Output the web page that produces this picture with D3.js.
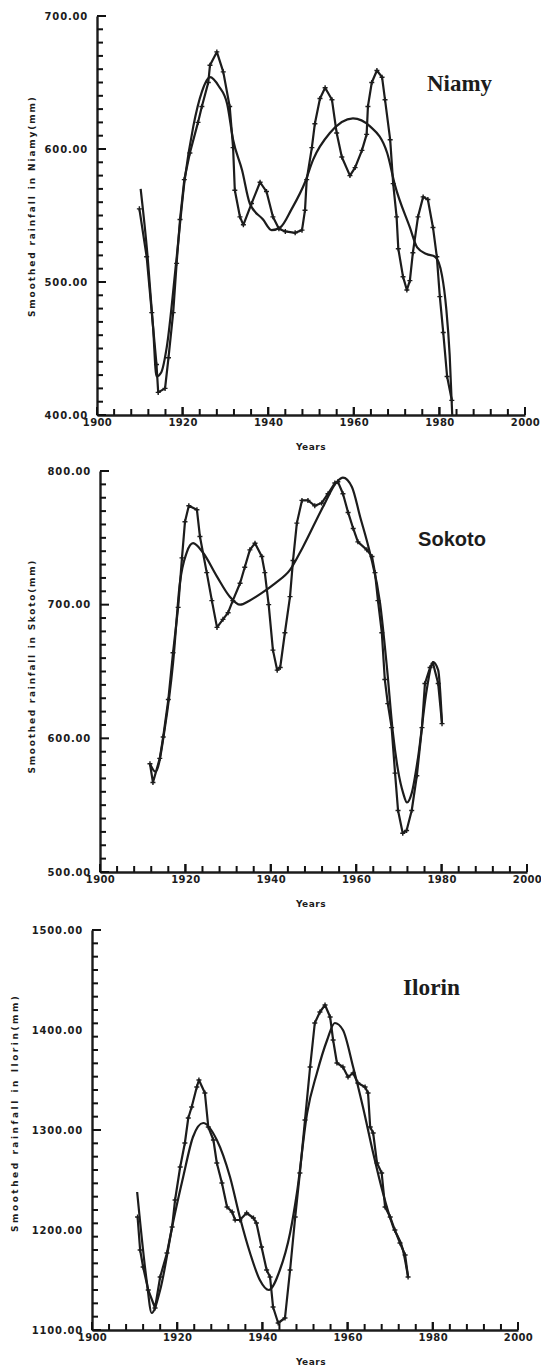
<!DOCTYPE html>
<html>
<head>
<meta charset="utf-8">
<script src="https://cdn.jsdelivr.net/npm/d3@7"></script>
<style>
  body { margin: 0; background: #fff; }
  svg { display: block; }
  .tick text { font-family: "DejaVu Sans", sans-serif; font-weight: bold; fill: #1c1c1c; }
</style>
</head>
<body>
<svg id="chart" width="541" height="1367"></svg>
<script>
// [year, smoothed rainfall mm]
const niameyRaw = [
  [1909.9, 555], [1911.6, 519], [1912.8, 477], [1913.9, 438], [1914.3, 417], [1915.9, 420],
  [1916.7, 443], [1917.8, 477], [1918.6, 514], [1919.4, 547], [1920.4, 577], [1921.7, 597],
  [1923.6, 620], [1924.5, 632], [1926, 650], [1926.4, 663], [1928, 673], [1929.5, 658],
  [1931, 632], [1931.8, 601], [1932.2, 569], [1933.4, 549], [1934.2, 543], [1936.1, 559],
  [1938.1, 575], [1939.6, 568], [1941.1, 549], [1942.5, 540], [1944, 538], [1946.3, 537],
  [1947.9, 539], [1948.6, 554], [1949, 577], [1950.2, 601], [1950.9, 619], [1952.1, 638],
  [1953.3, 646], [1954.9, 637], [1956, 612], [1957.2, 594], [1959.1, 580], [1960.3, 586],
  [1961.9, 599], [1963, 611], [1963.3, 632], [1964.2, 650], [1965.4, 659], [1966.6, 654],
  [1967.3, 637], [1968.5, 607], [1969.2, 574], [1970, 549], [1970.4, 525], [1971.5, 504],
  [1972.4, 494], [1973.1, 501], [1973.8, 522], [1975, 549], [1976.2, 564], [1977.3, 562],
  [1978.5, 541], [1979.4, 519], [1980.1, 489], [1980.9, 462], [1981.8, 429], [1982.9, 411]
];
const niameySmooth = [
  [1910.2, 570], [1911.8, 520], [1913.1, 466], [1913.9, 429], [1915, 432], [1916.3, 451],
  [1918.5, 515], [1920.5, 577], [1922.5, 617], [1924.5, 643], [1926.4, 654], [1928.5, 647],
  [1930.4, 634], [1931.8, 607], [1933.9, 584], [1935.7, 559], [1938.8, 547], [1940.8, 539],
  [1942.8, 541], [1945.5, 555], [1948.6, 575], [1950.5, 592], [1954.4, 612], [1959.8, 623],
  [1963.8, 617], [1967.8, 597], [1969.6, 573], [1973.1, 541], [1974.8, 526], [1977, 521],
  [1979, 519], [1980.6, 505], [1981.6, 480], [1982.4, 445], [1983, 400]
];

const sokotoRaw = [
  [1911.7, 581], [1912.4, 567], [1914, 585], [1914.8, 601], [1916, 629], [1917.1, 664],
  [1918.3, 698], [1919.2, 735], [1919.9, 762], [1920.8, 774], [1922.7, 771], [1923.4, 751],
  [1925, 724], [1926.2, 703], [1927.4, 683], [1928.8, 689], [1930, 694], [1931.1, 703],
  [1932.8, 716], [1933.9, 728], [1935.1, 741], [1936.3, 746], [1937.9, 736], [1938.6, 724],
  [1939.5, 700], [1940.5, 666], [1941.5, 651], [1942.2, 653], [1943.3, 679], [1944.5, 706],
  [1945.2, 733], [1946.1, 761], [1947.3, 778], [1948.7, 778], [1950.3, 774], [1951.9, 776],
  [1953.4, 783], [1955, 791], [1955.7, 792], [1956.9, 783], [1958.1, 769], [1959.3, 757],
  [1960.4, 747], [1962.5, 741], [1963.7, 736], [1964.4, 724], [1965.1, 703], [1966, 679],
  [1966.7, 644], [1967.4, 626], [1968.3, 608], [1969.1, 574], [1969.8, 546], [1970.9, 529],
  [1971.8, 531], [1973, 546], [1974.2, 572], [1975.4, 608], [1976.1, 641], [1977.3, 653],
  [1978, 656], [1979.2, 641], [1980.1, 611]
];
const sokotoSmooth = [
  [1911.7, 581], [1913, 575], [1915.2, 608], [1917.1, 656], [1918.7, 716], [1920.3, 739],
  [1921.8, 746], [1924.1, 739], [1927.4, 721], [1930.4, 706], [1932.8, 700], [1935, 703],
  [1938, 709], [1941, 716], [1944.5, 726], [1947.5, 743], [1952.2, 773], [1955.5, 792],
  [1956.9, 795], [1959, 788], [1960.9, 766], [1963.2, 739], [1965.6, 701], [1967.2, 653],
  [1968.6, 604], [1969.8, 576], [1971, 559], [1971.9, 552], [1973, 559], [1974.5, 586],
  [1976.5, 636], [1978, 657], [1979.2, 651], [1980.1, 611]
];

const ilorinRaw = [
  [1910.7, 1213], [1911.3, 1180], [1912, 1163], [1913.2, 1140], [1914.8, 1122], [1916, 1153],
  [1917.6, 1177], [1918.8, 1203], [1919.5, 1230], [1920.7, 1263], [1921.8, 1287], [1922.6, 1312],
  [1923.4, 1323], [1924.6, 1343], [1925.1, 1350], [1926.5, 1337], [1927.3, 1303], [1928.5, 1290],
  [1929.3, 1267], [1930.5, 1247], [1931.7, 1223], [1932.9, 1218], [1933.6, 1210], [1934.7, 1210],
  [1936.3, 1217], [1937.9, 1212], [1938.6, 1207], [1939.8, 1183], [1941, 1160], [1941.8, 1153],
  [1942.5, 1123], [1943.7, 1107], [1945.3, 1112], [1946.5, 1160], [1947.7, 1213], [1948.8, 1257],
  [1950, 1310], [1951.2, 1363], [1952.3, 1407], [1953.5, 1418], [1954.7, 1425], [1955.9, 1413],
  [1956.6, 1390], [1957.5, 1367], [1958.9, 1363], [1960.1, 1353], [1961.3, 1357], [1962.4, 1347],
  [1964.1, 1343], [1964.8, 1337], [1965.3, 1303], [1966, 1297], [1966.9, 1267], [1968, 1257],
  [1968.8, 1223], [1970, 1213], [1971.1, 1200], [1972.3, 1187], [1973.5, 1175], [1974.2, 1153]
];
const ilorinSmooth = [
  [1910.6, 1238], [1912.9, 1147], [1914, 1117], [1916, 1140], [1919, 1207], [1921.4, 1253],
  [1923.7, 1293], [1926.1, 1307], [1929.3, 1290], [1932.4, 1253], [1934.7, 1213], [1937.1, 1177],
  [1939.4, 1150], [1941.5, 1140], [1944.1, 1160], [1946.5, 1197], [1948.1, 1237], [1950.5, 1317],
  [1952.8, 1357], [1955.2, 1390], [1957, 1407], [1958.9, 1400], [1961.3, 1363], [1963.6, 1323],
  [1966, 1277], [1968.3, 1237], [1970.7, 1203], [1973, 1180], [1974.2, 1153]
];

const yearDomain = [1900, 2000];
const yearLabels = [1900, 1920, 1940, 1960, 1980, 2000];

const panels = [
  { raw: niameyRaw, smooth: niameySmooth, yDomain: [400, 700],
    left: 97, right: 525, top: 16, bottom: 415,
    title: 'Niamy', titleX: 427, titleY: 91, titleFont: '"Liberation Serif", serif', titleSize: 23, titleLen: 65,
    ylabel: 'Smoothed rainfall in Niamy(mm)', labelX: 32, labelY: 207, labelLen: 220 },
  { raw: sokotoRaw, smooth: sokotoSmooth, yDomain: [500, 800],
    left: 100, right: 527, top: 471, bottom: 872,
    title: 'Sokoto', titleX: 418, titleY: 546, titleFont: '"Liberation Sans", Arial, sans-serif', titleSize: 21, titleLen: 68,
    ylabel: 'Smoothed rainfall in Skoto(mm)', labelX: 32, labelY: 667, labelLen: 213 },
  { raw: ilorinRaw, smooth: ilorinSmooth, yDomain: [1100, 1500],
    left: 92, right: 518, top: 930, bottom: 1330,
    title: 'Ilorin', titleX: 403, titleY: 995, titleFont: '"Liberation Serif", serif', titleSize: 24, titleLen: 57,
    ylabel: 'Smoothed rainfall in Ilorin(mm)', labelX: 15, labelY: 1114, labelLen: 236 }
];

const ink = '#1c1c1c';
const svg = d3.select('#chart');

panels.forEach((p, i) => {
  const x = d3.scaleLinear().domain(yearDomain).range([p.left, p.right]);
  const y = d3.scaleLinear().domain(p.yDomain).range([p.bottom, p.top]);
  const g = svg.append('g');
  const span = p.yDomain[1] - p.yDomain[0];

  // axes with labels
  const yAxis = g.append('g')
    .attr('transform', `translate(${p.left},0)`)
    .call(d3.axisLeft(y).tickValues(d3.range(p.yDomain[0], p.yDomain[1] + 1, 100))
      .tickSize(0).tickPadding(9).tickFormat(d3.format('.2f')));
  yAxis.selectAll('.tick text').style('font-size', '10px').style('letter-spacing', '0.8px');

  const xAxis = g.append('g')
    .attr('transform', `translate(0,${p.bottom})`)
    .call(d3.axisBottom(x).tickValues(yearLabels).tickSize(0).tickPadding(4)
      .tickFormat(d3.format('d')));
  xAxis.selectAll('.tick text').style('font-size', '10px').style('letter-spacing', '0.4px');

  g.selectAll('.domain').attr('stroke', ink).attr('stroke-width', 2.4);

  // curves
  const smoothLine = d3.line().x(d => x(d[0])).y(d => y(d[1])).curve(d3.curveMonotoneX);
  const rawLine = d3.line().x(d => x(d[0])).y(d => y(d[1])).curve(d3.curveLinear);

  g.append('path')
    .datum(p.smooth)
    .attr('d', smoothLine)
    .attr('fill', 'none')
    .attr('stroke', ink)
    .attr('stroke-width', 2.2);

  g.append('path')
    .datum(p.raw)
    .attr('d', rawLine)
    .attr('fill', 'none')
    .attr('stroke', ink)
    .attr('stroke-width', 2.2)
    .attr('stroke-linejoin', 'round');

  g.selectAll('.mark')
    .data(p.raw)
    .enter().append('path')
    .attr('class', 'mark')
    .attr('transform', d => `translate(${x(d[0])},${y(d[1])})`)
    .attr('d', 'M-2.5,0H2.5M0,-2.5V2.5')
    .attr('stroke', ink)
    .attr('stroke-width', 1.4);

  // inward tick marks, longer on the labelled values
  const yTicks = d3.range(p.yDomain[0], p.yDomain[1] + 1, span / 30);
  const xTicks = d3.range(1900, 2001, 4).concat(yearLabels);
  svg.selectAll(`.ytick-${i}`)
    .data(yTicks)
    .enter().append('line')
    .attr('class', `ytick-${i}`)
    .attr('x1', p.left)
    .attr('x2', d => p.left + ((d - p.yDomain[0]) % 100 === 0 ? 9 : 6))
    .attr('y1', d => y(d))
    .attr('y2', d => y(d))
    .attr('stroke', '#111')
    .attr('stroke-width', 2);
  svg.selectAll(`.xtick-${i}`)
    .data(xTicks)
    .enter().append('line')
    .attr('class', `xtick-${i}`)
    .attr('x1', d => x(d))
    .attr('x2', d => x(d))
    .attr('y1', p.bottom)
    .attr('y2', d => p.bottom - (d % 20 === 0 ? 8 : 6))
    .attr('stroke', '#111')
    .attr('stroke-width', 2);

  // title
  g.append('text')
    .attr('x', p.titleX)
    .attr('y', p.titleY)
    .attr('textLength', p.titleLen)
    .attr('lengthAdjust', 'spacingAndGlyphs')
    .style('font-family', p.titleFont)
    .style('font-weight', 'bold')
    .style('font-size', p.titleSize + 'px')
    .attr('fill', ink)
    .text(p.title);

  // axis titles
  g.append('text')
    .attr('transform', `translate(${p.labelX},${p.labelY}) rotate(-90)`)
    .attr('text-anchor', 'middle')
    .attr('dy', '0.35em')
    .attr('textLength', p.labelLen)
    .attr('lengthAdjust', 'spacing')
    .style('font-family', '"DejaVu Sans", sans-serif')
    .style('font-weight', 'bold')
    .style('font-size', '9px')
    .attr('fill', ink)
    .text(p.ylabel);

  g.append('text')
    .attr('x', 311)
    .attr('y', p.bottom + 35)
    .attr('text-anchor', 'middle')
    .style('font-family', '"DejaVu Sans", sans-serif')
    .style('font-weight', 'bold')
    .style('font-size', '9px')
    .style('letter-spacing', '0.5px')
    .attr('fill', ink)
    .text('Years');
});
</script>
</body>
</html>
